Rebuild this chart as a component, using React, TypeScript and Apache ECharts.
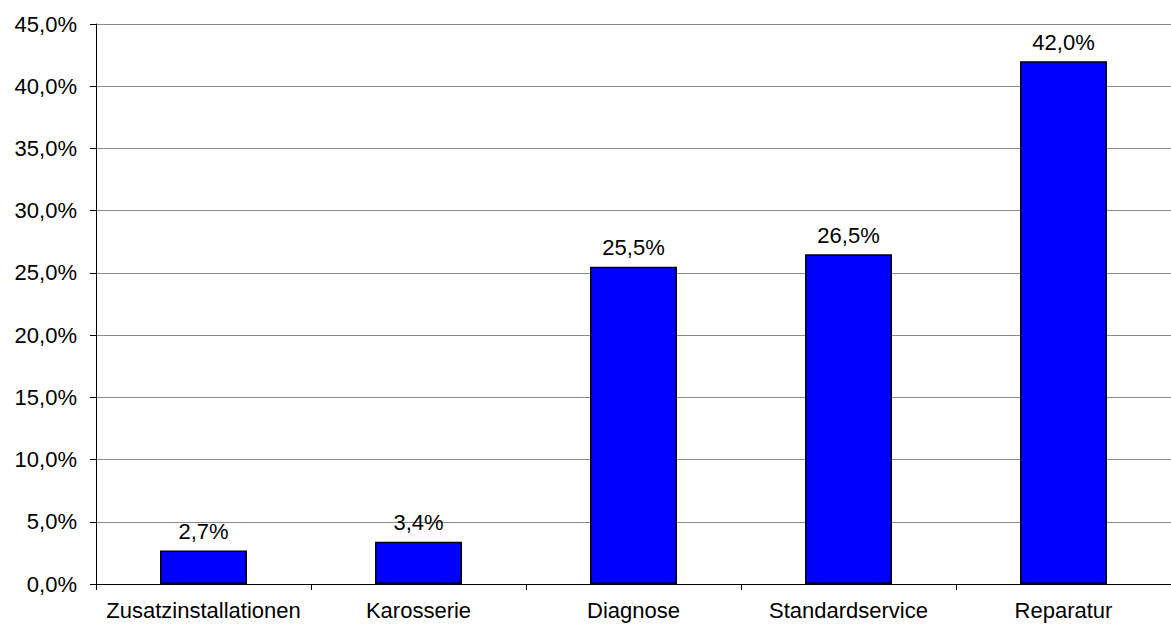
import React, { useEffect, useRef } from "react";
import * as echarts from "echarts";

// Share of workshop orders by service type (percent)
const categories = [
  "Zusatzinstallationen",
  "Karosserie",
  "Diagnose",
  "Standardservice",
  "Reparatur",
];
const shares = [2.7, 3.4, 25.5, 26.5, 42.0];

const yMin = 0;
const yMax = 45;
const yStep = 5;

const FONT = "'Liberation Sans', Arial, sans-serif";

const fmtPct = (v: number) => v.toFixed(1).replace(".", ",") + "%";

export default function App() {
  const ref = useRef<HTMLDivElement>(null);

  useEffect(() => {
    if (!ref.current) return;
    const chart = echarts.init(ref.current, undefined, { renderer: "svg" });
    chart.setOption({
      animation: false,
      backgroundColor: "#ffffff",
      textStyle: { fontFamily: FONT, color: "#000" },
      grid: { left: 96, top: 24, width: 1088, height: 560 },
      xAxis: {
        type: "category",
        data: categories,
        boundaryGap: true,
        axisLine: { show: true, lineStyle: { color: "#000", width: 1 } },
        axisTick: {
          show: true,
          alignWithLabel: false,
          length: 6,
          lineStyle: { color: "#000", width: 1 },
        },
        axisLabel: {
          color: "#000",
          fontFamily: FONT,
          fontSize: 22,
          margin: 15,
          interval: 0,
        },
        splitLine: { show: false },
      },
      yAxis: {
        type: "value",
        min: yMin,
        max: yMax,
        interval: yStep,
        axisLine: { show: true, lineStyle: { color: "#000", width: 1 } },
        axisTick: {
          show: true,
          length: 6,
          lineStyle: { color: "#000", width: 1 },
        },
        axisLabel: {
          color: "#000",
          fontFamily: FONT,
          fontSize: 22,
          margin: 19,
          formatter: (v: number) => fmtPct(v),
        },
        splitLine: { show: true, lineStyle: { color: "#8c8c8c", width: 1 } },
      },
      series: [
        {
          type: "bar",
          data: shares,
          barWidth: 87,
          itemStyle: { color: "#0000ff", borderColor: "#000", borderWidth: 1.5 },
          label: {
            show: true,
            position: "top",
            distance: 8,
            color: "#000",
            fontFamily: FONT,
            fontSize: 22,
            formatter: (p: any) => fmtPct(p.value),
          },
        },
      ],
    });
    return () => chart.dispose();
  }, []);

  return (
    <div
      ref={ref}
      style={{ position: "fixed", left: 0, top: 0, width: 1171, height: 630 }}
    />
  );
}
